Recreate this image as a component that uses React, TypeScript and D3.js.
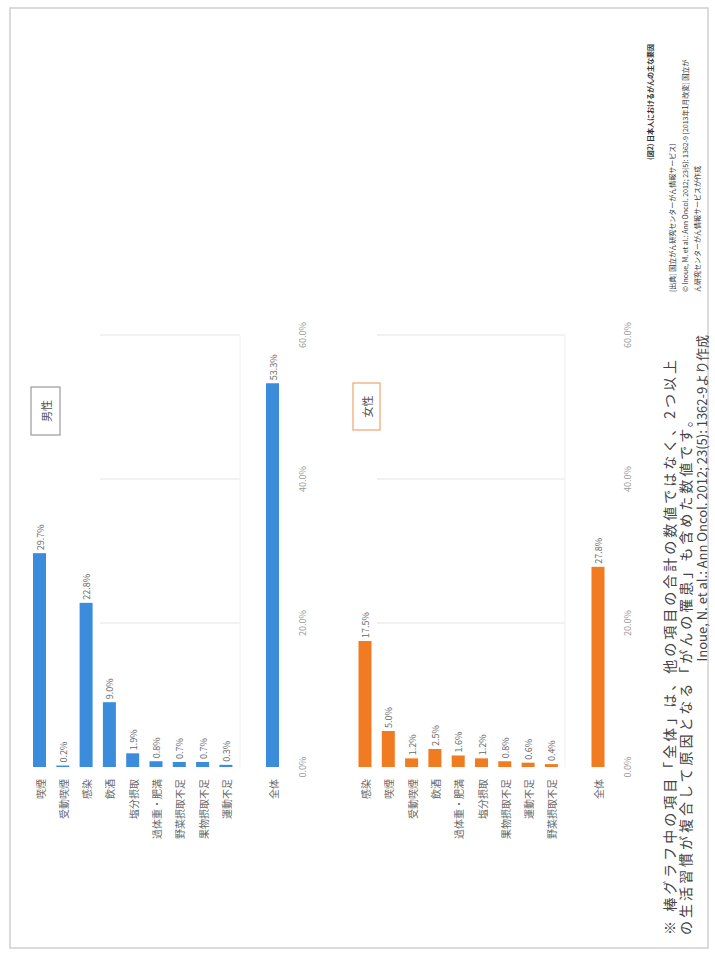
import React from "react";
import * as d3 from "d3";

// 男性：要因別の寄与割合（%）
const maleCategories = ["喫煙", "受動喫煙", "感染", "飲酒", "塩分摂取", "過体重・肥満", "野菜摂取不足", "果物摂取不足", "運動不足", "全体"];
const maleValues = [29.7, 0.2, 22.8, 9.0, 1.9, 0.8, 0.7, 0.7, 0.3, 53.3];

// 女性：要因別の寄与割合（%）
const femaleCategories = ["感染", "喫煙", "受動喫煙", "飲酒", "過体重・肥満", "塩分摂取", "果物摂取不足", "運動不足", "野菜摂取不足", "全体"];
const femaleValues = [17.5, 5.0, 1.2, 2.5, 1.6, 1.2, 0.8, 0.6, 0.4, 27.8];

const tickValues = [0, 20, 40, 60];
const gridValues = [20, 40, 60];

const noteLines = [
  "※ 棒グラフ中の項目「全体」は、他の項目の合計の数値ではなく、2つ以上",
  "の生活習慣が複合して原因となる「がんの罹患」も含めた数値です。",
];
const citeLine = "Inoue, N. et al.: Ann Oncol. 2012; 23(5): 1362-9より作成";

const sourceLines = [
  "(図2) 日本人におけるがんの主な要因",
  "[出典] 国立がん研究センターがん情報サービス)",
  "© Inoue, M. et al.: Ann Oncol. 2012; 23(5): 1362-9 [2013年1月改変] 国立が",
  "ん研究センターがん情報サービスが作成",
];

const W = 715;
const H = 955;
const FONT = "'Noto Sans CJK JP', 'Noto Sans', sans-serif";

// value axis shared by both panels (vertical on the page)
const y = d3.scaleLinear().domain([0, 60]).range([767, 335]);

type PanelProps = {
  categories: string[];
  values: number[];
  color: string;
  x0: number;
  title: string;
  boxStroke: string;
  box: { x: number; y: number; w: number; h: number };
  gridFrom: number;
  gridTo: number;
  tickX: number;
};

function rot(x: number, yy: number) {
  return `translate(${x},${yy}) rotate(-90)`;
}

function Panel(p: PanelProps) {
  // one empty slot separates the factors from the 全体 bar
  const slots = [...p.categories.slice(0, -1), "__gap", p.categories[p.categories.length - 1]];
  const x = d3.scalePoint<string>().domain(slots).range([p.x0, p.x0 + 23.3 * 11]).padding(0.5);
  const barW = 13;
  const fmt = (v: number) => `${v.toFixed(1)}%`;
  return (
    <g>
      {gridValues.map((g) => (
        <line key={g} x1={p.gridFrom} x2={p.gridTo} y1={y(g)} y2={y(g)} stroke="#e4e4e4" strokeWidth={1} />
      ))}
      <line x1={p.gridTo} x2={p.gridTo} y1={y(60)} y2={y(0)} stroke="#f0f0f0" strokeWidth={1} />
      {p.categories.map((c, i) => {
        const cx = x(c) as number;
        const v = p.values[i];
        return (
          <g key={c}>
            <rect x={cx - barW / 2} y={y(v)} width={barW} height={y(0) - y(v)} fill={p.color} />
            <text
              transform={rot(cx + 0.5, y(v) - 3)}
              textAnchor="start"
              dominantBaseline="central"
              fontSize={9}
              fill="#666"
              fontFamily={FONT}
            >
              {fmt(v)}
            </text>
            <text
              transform={rot(cx + 0.5, 779)}
              textAnchor="end"
              dominantBaseline="central"
              fontSize={10}
              fill="#666"
              fontFamily={FONT}
            >
              {c}
            </text>
          </g>
        );
      })}
      {tickValues.map((t) => (
        <text
          key={t}
          transform={rot(p.tickX, y(t))}
          textAnchor="middle"
          dominantBaseline="central"
          fontSize={9}
          fill="#999"
          fontFamily={FONT}
        >
          {`${t.toFixed(1)}%`}
        </text>
      ))}
      <rect x={p.box.x} y={p.box.y} width={p.box.w} height={p.box.h} fill="#fff" stroke={p.boxStroke} strokeWidth={1.2} />
      <text
        transform={rot(p.box.x + p.box.w / 2, p.box.y + p.box.h / 2)}
        textAnchor="middle"
        dominantBaseline="central"
        fontSize={11}
        fill="#555"
        fontFamily={FONT}
      >
        {p.title}
      </text>
    </g>
  );
}

export default function App() {
  return (
    <svg
      width={W}
      height={H}
      viewBox={`0 0 ${W} ${H}`}
      style={{ position: "absolute", left: 0, top: 0, background: "#fff" }}
    >
      <rect x={10} y={8} width={698} height={940} fill="#fff" stroke="#d0d0d0" strokeWidth={1.5} />
      <Panel
        categories={maleCategories}
        values={maleValues}
        color="#3b8ddb"
        x0={27.85}
        title="男性"
        boxStroke="#999"
        box={{ x: 31, y: 387, w: 29, h: 48 }}
        gridFrom={100}
        gridTo={240}
        tickX={302}
      />
      <Panel
        categories={femaleCategories}
        values={femaleValues}
        color="#f07b20"
        x0={353.35}
        title="女性"
        boxStroke="#f0a36a"
        box={{ x: 353, y: 383, w: 27, h: 47 }}
        gridFrom={377}
        gridTo={565}
        tickX={627}
      />
      {noteLines.map((t, i) => (
        <text
          key={i}
          transform={rot(669 + i * 16, 935)}
          textAnchor="start"
          dominantBaseline="central"
          fontSize={14}
          letterSpacing={3}
          fill="#444"
          fontFamily={FONT}
        >
          {t}
        </text>
      ))}
      <text
        transform={rot(701, 335)}
        textAnchor="end"
        dominantBaseline="central"
        fontSize={13}
        fill="#444"
        fontFamily={FONT}
      >
        {citeLine}
      </text>
      {sourceLines.map((t, i) => (
        <text
          key={i}
          transform={rot(650 + [0, 22, 35, 47][i], i === 0 ? 160 : 292)}
          textAnchor="start"
          dominantBaseline="central"
          fontSize={7}
          fill="#333"
          fontWeight={i === 0 ? "bold" : "normal"}
          fontFamily={FONT}
        >
          {t}
        </text>
      ))}
    </svg>
  );
}
